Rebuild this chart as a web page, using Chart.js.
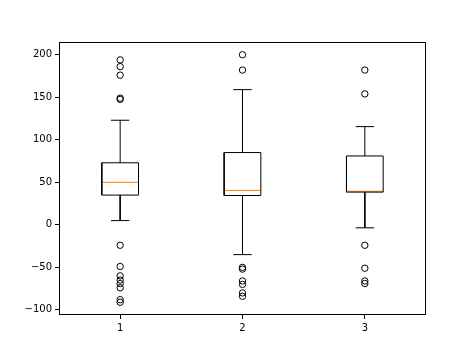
<!DOCTYPE html>
<html>
<head>
<meta charset="utf-8">
<script src="https://cdn.jsdelivr.net/npm/chart.js@4.4.0/dist/chart.umd.min.js"></script>
<style>
  html, body { margin: 0; padding: 0; background: #fff; }
  #wrap { width: 474px; height: 355px; }
</style>
</head>
<body>
<div id="wrap"><canvas id="chart" width="474" height="355"></canvas></div>
<script>
// box plot values
const categories = [1, 2, 3];
const q1 = [35, 34.5, 38.5];
const median = [50, 40.5, 39.5];
const q3 = [73, 85, 81];
const whiskerLow = [5, -35, -3.5];
const whiskerHigh = [123, 159, 115.5];
const outliers = [
  [194, 186, 176, 149, 147.5, -24, -49, -60, -65, -69, -74, -88, -91],
  [200, 182, -50, -52, -66, -70, -80, -84],
  [182, 154, -24, -51, -66, -69]
];
const yTicks = [-100, -50, 0, 50, 100, 150, 200];

const boxHalf = 0.15;
const capHalf = 0.075;

// one line dataset per drawn segment
function lineSet(points, color) {
  return {
    data: points,
    showLine: true,
    borderColor: color,
    borderWidth: 1,
    pointRadius: 0
  };
}

let datasets = [];
categories.forEach((x, i) => {
  datasets.push(lineSet([
    { x: x - boxHalf, y: q1[i] }, { x: x + boxHalf, y: q1[i] },
    { x: x + boxHalf, y: q3[i] }, { x: x - boxHalf, y: q3[i] },
    { x: x - boxHalf, y: q1[i] }
  ], '#000'));
  datasets.push(lineSet([{ x: x, y: q1[i] }, { x: x, y: whiskerLow[i] }], '#000'));
  datasets.push(lineSet([{ x: x, y: q3[i] }, { x: x, y: whiskerHigh[i] }], '#000'));
  datasets.push(lineSet([{ x: x - capHalf, y: whiskerLow[i] }, { x: x + capHalf, y: whiskerLow[i] }], '#000'));
  datasets.push(lineSet([{ x: x - capHalf, y: whiskerHigh[i] }, { x: x + capHalf, y: whiskerHigh[i] }], '#000'));
  datasets.push(lineSet([{ x: x - boxHalf, y: median[i] }, { x: x + boxHalf, y: median[i] }], '#ff7f0e'));
});

let fliers = [];
categories.forEach((x, i) => {
  outliers[i].forEach(v => fliers.push({ x: x, y: v }));
});
datasets.push({
  data: fliers,
  showLine: false,
  pointRadius: 3.2,
  pointBorderWidth: 1,
  pointBorderColor: '#000',
  pointBackgroundColor: 'rgba(0,0,0,0)'
});

// frame round the plot area, like the matplotlib spines
const framePlugin = {
  id: 'frame',
  afterDraw(chart) {
    const a = chart.chartArea;
    const ctx = chart.ctx;
    ctx.save();
    ctx.strokeStyle = '#000';
    ctx.lineWidth = 1;
    ctx.strokeRect(Math.round(a.left) + 0.5, Math.round(a.top) + 0.5,
      Math.round(a.right - a.left) - 1, Math.round(a.bottom - a.top) - 1);
    ctx.restore();
  }
};

const tickFont = { family: 'DejaVu Sans', size: 10 };

new Chart(document.getElementById('chart'), {
  type: 'scatter',
  data: { datasets: datasets },
  options: {
    responsive: false,
    animation: false,
    layout: { padding: { top: 42, right: 48, left: 0, bottom: 0 } },
    plugins: {
      legend: { display: false },
      tooltip: { enabled: false }
    },
    scales: {
      x: {
        type: 'linear',
        min: 0.5,
        max: 3.5,
        afterFit: s => { s.height = 40; },
        afterBuildTicks: s => { s.ticks = categories.map(v => ({ value: v })); },
        grid: { drawOnChartArea: false, drawTicks: true, tickLength: 4, color: '#000' },
        border: { display: false },
        ticks: {
          color: '#000',
          font: tickFont,
          padding: 3,
          maxRotation: 0,
          callback: v => String(v)
        }
      },
      y: {
        type: 'linear',
        min: -106,
        max: 215,
        afterFit: s => { s.width = 59; },
        afterBuildTicks: s => { s.ticks = yTicks.map(v => ({ value: v })); },
        grid: { drawOnChartArea: false, drawTicks: true, tickLength: 4, color: '#000' },
        border: { display: false },
        ticks: {
          color: '#000',
          font: tickFont,
          padding: 3,
          callback: v => String(v).replace('-', '\u2212')
        }
      }
    }
  },
  plugins: [framePlugin]
});
</script>
</body>
</html>
